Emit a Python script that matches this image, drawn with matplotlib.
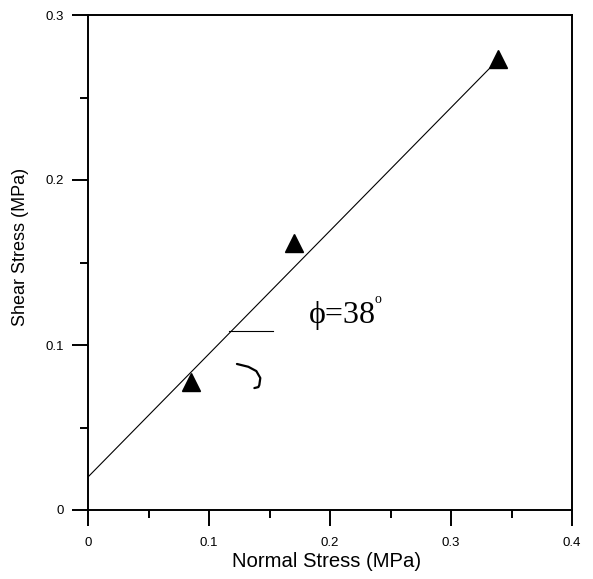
import numpy as np
import matplotlib
matplotlib.use("Agg")
import matplotlib.pyplot as plt
from matplotlib.ticker import FixedLocator, FixedFormatter

# measured points (normal stress, shear stress) in MPa
normal_stress = [0.085, 0.170, 0.339]
shear_stress = [0.0776, 0.162, 0.2736]

# fitted failure line
fit_x = [0.0, 0.335]
fit_y = [0.020, 0.270]

# angle mark: horizontal reference and the small arc
ref_x = [0.1168, 0.1530]
ref_y = [0.1085, 0.1085]
arc_x = [0.1231, 0.1325, 0.1391, 0.1424, 0.1416, 0.1408, 0.1375]
arc_y = [0.0885, 0.0868, 0.0842, 0.0800, 0.0758, 0.0745, 0.0739]

x_major = [0, 0.1, 0.2, 0.3, 0.4]
x_labels = ["0", "0.1", "0.2", "0.3", "0.4"]
x_minor = [0.05, 0.15, 0.25, 0.35]
y_major = [0, 0.1, 0.2, 0.3]
y_labels = ["0", "0.1", "0.2", "0.3"]
y_minor = [0.05, 0.15, 0.25]

plt.rcParams['font.family'] = ['Liberation Sans', 'DejaVu Sans']

fig = plt.figure(figsize=(5.93, 5.79), dpi=100)
ax = fig.add_axes([88 / 593, 1 - 510 / 579, (572 - 88) / 593, (510 - 15) / 579])

ax.plot(fit_x, fit_y, color='black', lw=0.8)
ax.plot(normal_stress, shear_stress, linestyle='none', marker='^',
        color='black', markersize=13, clip_on=False)

ax.plot(ref_x, ref_y, color='black', lw=0.8)
ax.plot(arc_x, arc_y, color='black', lw=1.6, solid_capstyle='round')

ax.text(0.1822, 0.1133, '\u03d5=38', family=['Liberation Serif', 'DejaVu Serif'],
        fontsize=23, va='baseline', ha='left')
ax.text(0.2365, 0.1255, 'o', family=['Liberation Serif', 'DejaVu Serif'],
        fontsize=10, va='baseline', ha='left')

ax.set_xlim(0, 0.4)
ax.set_ylim(0, 0.3)

ax.xaxis.set_major_locator(FixedLocator(x_major))
ax.xaxis.set_major_formatter(FixedFormatter(x_labels))
ax.xaxis.set_minor_locator(FixedLocator(x_minor))
ax.yaxis.set_major_locator(FixedLocator(y_major))
ax.yaxis.set_major_formatter(FixedFormatter(y_labels))
ax.yaxis.set_minor_locator(FixedLocator(y_minor))

ax.tick_params(which='both', direction='out', top=False, right=False, width=1.4)
ax.tick_params(which='major', length=11.5, labelsize=9.5)
ax.tick_params(axis='x', which='major', pad=8)
ax.tick_params(axis='y', which='major', pad=6)
ax.tick_params(which='minor', length=5.8)

for sp in ax.spines.values():
    sp.set_linewidth(1.4)

ax.set_xlabel('Normal Stress (MPa)', fontsize=14.6)
ax.set_ylabel('Shear Stress (MPa)', fontsize=13)
ax.xaxis.set_label_coords(0.4938, -0.085)
ax.yaxis.set_label_coords(-0.122, 0.531)

fig.savefig('out.png', dpi=100)
